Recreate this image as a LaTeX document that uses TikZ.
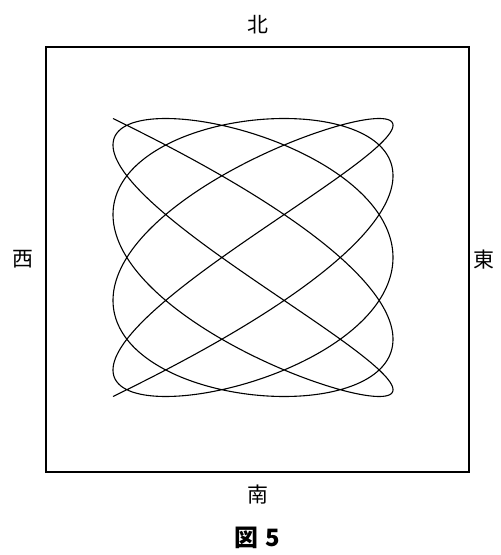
\documentclass[tikz,border=0pt]{standalone}
\usepackage{fontspec}
\newfontfamily\jpfont{Noto Sans CJK JP}
\usetikzlibrary{positioning}

\begin{document}
\begin{tikzpicture}[x=1bp,y=-1bp,lbl/.style={inner sep=0pt,font=\jpfont\fontsize{21}{21}\selectfont},frm/.style={draw,line width=1.6bp,inner sep=0pt,minimum width=423bp,minimum height=425bp},lissa/.style={line width=1.1bp,line join=round}]
\useasboundingbox (0,0) rectangle (501,555);
\node[frm] (frame) at (257.5,259.5) {};
\node[lbl,yshift=22bp] (north) at (frame.north) {北};
\node[lbl,yshift=-22bp] (south) at (frame.south) {南};
\node[lbl,xshift=-22bp] (west) at (frame.west) {西};
\node[lbl,xshift=14bp] (east) at (frame.east) {東};
\node[lbl,font=\jpfont\bfseries\fontsize{24}{24}\selectfont,below=22bp of south] (fig) {図\hspace{0.3em}5};
% curve x:y = 10:7
\draw[lissa] plot[domain=0:180,samples=901,variable=\t,smooth] ({253-140*cos(10*\t)},{257.5-139*cos(7*\t)});
\end{tikzpicture}
\end{document}
